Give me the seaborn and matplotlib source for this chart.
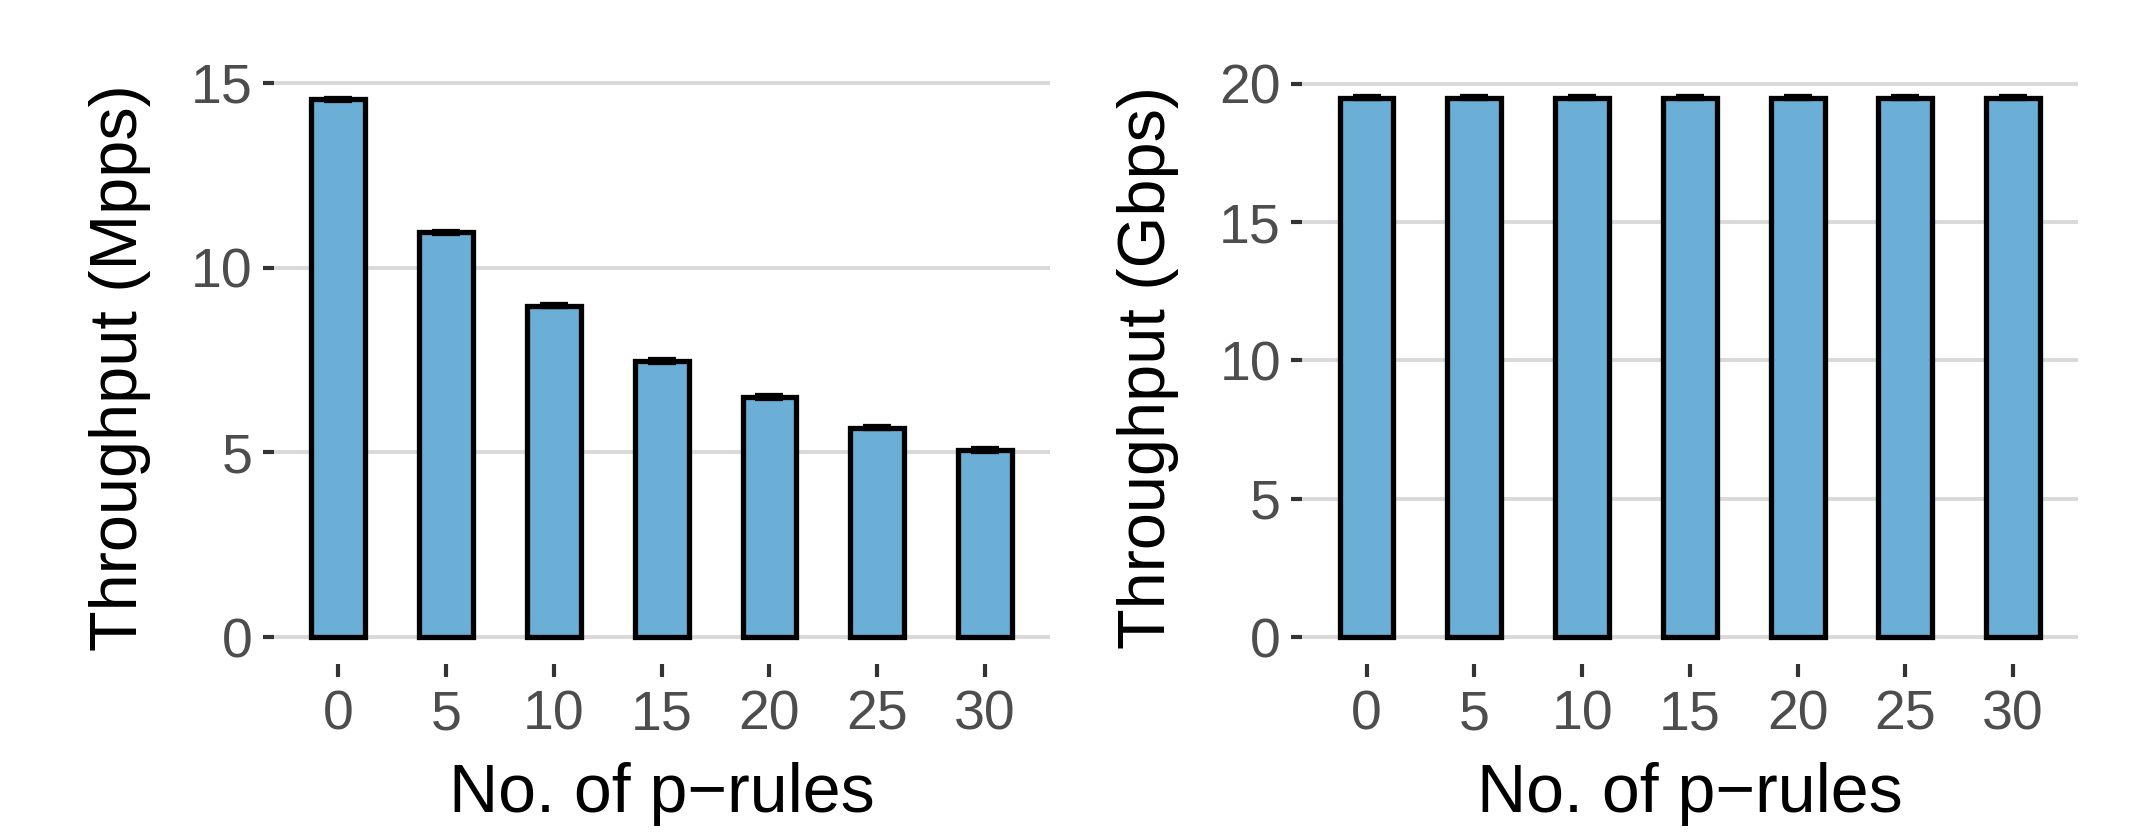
import matplotlib
matplotlib.use("Agg")
import matplotlib.pyplot as plt
import seaborn as sns
import pandas as pd

# Throughput vs number of p-rules
prules = ["0", "5", "10", "15", "20", "25", "30"]
mpps = [14.55, 10.95, 8.97, 7.47, 6.5, 5.67, 5.07]
mpps_err = [0.02, 0.02, 0.02, 0.02, 0.02, 0.02, 0.02]
gbps = [19.5, 19.5, 19.5, 19.5, 19.5, 19.5, 19.5]
gbps_err = [0.02, 0.02, 0.02, 0.02, 0.02, 0.02, 0.02]

xlabel = "No. of p\u2212rules"
ylabels = ["Throughput (Mpps)", "Throughput (Gbps)"]
yticks = [[0, 5, 10, 15], [0, 5, 10, 15, 20]]
ylims = [(-0.73, 15.33), (-0.975, 20.475)]

sns.set_style("white")
plt.rcParams["font.family"] = ["Liberation Sans", "DejaVu Sans"]

fill = "#6BAED6"
fig = plt.figure(figsize=(21.3, 8.32), dpi=100)
axes = [fig.add_axes([0.1285, 0.2016, 0.3643, 0.7136]),
        fig.add_axes([0.6112, 0.2016, 0.3643, 0.7136])]

panels = [(mpps, mpps_err), (gbps, gbps_err)]
for ax, (vals, errs), ylab, yt, yl in zip(axes, panels, ylabels, yticks, ylims):
    df = pd.DataFrame({"rules": prules, "tput": vals})
    sns.barplot(data=df, x="rules", y="tput", ax=ax, color=fill, width=0.5,
                edgecolor="black", linewidth=3.8, errorbar=None, saturation=1,
                zorder=2)
    ax.errorbar(range(len(prules)), vals, yerr=errs, fmt="none", ecolor="black",
                elinewidth=4.0, capsize=10, capthick=4.5, zorder=3)
    ax.set_ylim(*yl)
    ax.set_xlim(-0.6, len(prules) - 0.4)
    ax.set_yticks(yt)
    ax.yaxis.grid(True, color="#D9D9D9", linewidth=2.8)
    ax.xaxis.grid(False)
    ax.set_axisbelow(True)
    for s in ax.spines.values():
        s.set_visible(False)
    ax.tick_params(axis="both", which="major", length=8, width=3.0,
                   color="#333333", labelcolor="#4D4D4D", labelsize=40,
                   direction="out")
    ax.tick_params(axis="x", pad=9, length=9)
    ax.tick_params(axis="y", pad=7, left=True)
    ax.tick_params(axis="x", bottom=True)
    ax.set_xlabel(xlabel, fontsize=49, color="black", labelpad=15)
    ax.set_ylabel(ylab, fontsize=48, color="black", labelpad=29)

fig.savefig("out.png", dpi=100, facecolor="white")
